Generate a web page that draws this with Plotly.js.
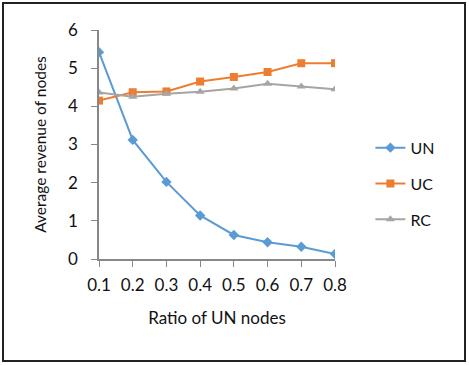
<!DOCTYPE html>
<html>
<head>
<meta charset="utf-8">
<script src="https://cdn.plot.ly/plotly-3.0.1.min.js"></script>
<style>
  body { margin: 0; background: #fff; }
  #chart { position: absolute; left: 0; top: 0; width: 469px; height: 366px; }
  #frame { position: absolute; left: 2px; top: 2px; width: 460px; height: 356px;
           border: 2px solid #222; pointer-events: none; }
</style>
</head>
<body>
<div id="chart"></div>
<div id="frame"></div>
<script>
// ratio of UN nodes
let ratios = [0.1, 0.2, 0.3, 0.4, 0.5, 0.6, 0.7, 0.8];
let tickText = ["0.1", "0.2", "0.3", "0.4", "0.5", "0.6", "0.7", "0.8"];

// average revenue of nodes
let unValues = [5.42, 3.12, 2.02, 1.14, 0.63, 0.44, 0.32, 0.13];
let ucValues = [4.15, 4.37, 4.39, 4.65, 4.77, 4.90, 5.13, 5.13];
let rcValues = [4.36, 4.25, 4.33, 4.38, 4.47, 4.59, 4.52, 4.45];

function drawChart() {
  let fontFam = "Lato, 'Open Sans', sans-serif";

  var data = [
    {
      x: ratios, y: unValues, mode: "lines+markers", name: "UN", legendgroup: "a",
      line: {color: "#5b9bd5", width: 2},
      marker: {symbol: "diamond", size: 8, color: "#5b9bd5"}
    },
    {
      x: ratios, y: ucValues, mode: "lines+markers", name: "UC", legendgroup: "b",
      line: {color: "#ed7d31", width: 2},
      marker: {symbol: "square", size: 8, color: "#ed7d31"}
    },
    {
      x: ratios, y: rcValues, mode: "lines+markers", name: "RC", legendgroup: "c",
      line: {color: "#a5a5a5", width: 2},
      marker: {symbol: "triangle-up", size: 8, color: "#a5a5a5"}
    }
  ];

  var layout = {
    width: 469,
    height: 366,
    font: {family: fontFam, size: 17, color: "#111"},
    paper_bgcolor: "#fff",
    plot_bgcolor: "#fff",
    margin: {l: 99, r: 134, t: 30, b: 107, pad: 0},
    xaxis: {
      range: [0.1, 0.8],
      tickvals: ratios,
      ticktext: tickText,
      showgrid: false,
      zeroline: false,
      showline: true,
      linecolor: "#888",
      linewidth: 1.5,
      ticks: "outside",
      ticklen: 6,
      tickcolor: "#888",
      ticklabelstandoff: 4,
      title: {text: "Ratio of UN nodes", font: {size: 17}, standoff: 18}
    },
    yaxis: {
      range: [0, 6],
      dtick: 1,
      showgrid: false,
      zeroline: false,
      showline: true,
      linecolor: "#888",
      linewidth: 1.5,
      ticks: "outside",
      ticklen: 6,
      tickcolor: "#888",
      ticklabelstandoff: 10,
      title: {text: "Average revenue of nodes", font: {size: 15.5}, standoff: 18}
    },
    showlegend: true,
    legend: {
      x: 1.15, xanchor: "left",
      y: 0.56, yanchor: "top",
      traceorder: "grouped",
      tracegroupgap: 12,
      font: {size: 16},
      bgcolor: "rgba(0,0,0,0)"
    }
  };

  Plotly.newPlot("chart", data, layout, {displayModeBar: false});
}

drawChart();
</script>
</body>
</html>
